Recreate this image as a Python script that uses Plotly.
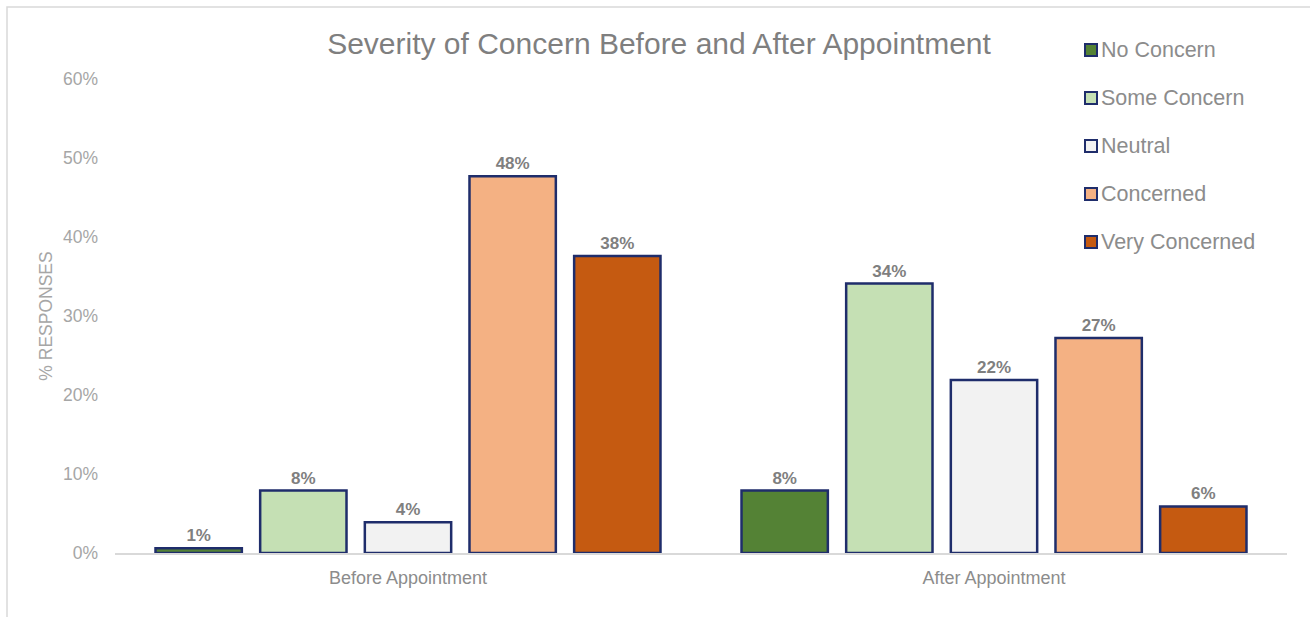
import plotly.graph_objects as go

# Survey results: share of responses per concern level
groups = ["Before Appointment", "After Appointment"]
levels = ["No Concern", "Some Concern", "Neutral", "Concerned", "Very Concerned"]
no_concern = [0.006, 0.079]
some_concern = [0.079, 0.341]
neutral = [0.039, 0.219]
concerned = [0.477, 0.272]
very_concerned = [0.376, 0.059]

series = [no_concern, some_concern, neutral, concerned, very_concerned]
colors = ["#548235", "#C5E0B4", "#F2F2F2", "#F4B183", "#C55A11"]
outline = "#1F2D6B"
font_family = "Liberation Sans, Arial, sans-serif"

fig = go.Figure()
for name, vals, col in zip(levels, series, colors):
    fig.add_trace(go.Bar(
        x=groups,
        y=vals,
        name=name,
        showlegend=False,
        marker=dict(color=col, line=dict(color=outline, width=2.5)),
        texttemplate="%{y:.0%}",
        textposition="outside",
        cliponaxis=False,
        textfont=dict(family=font_family, size=17, color="#7F7F7F", weight="bold"),
    ))

W, H = 1310, 617
ml, mr, mt, mb = 115, 23, 79, 64
pw, ph = W - ml - mr, H - mt - mb


def px_x(x):
    return (x - ml) / pw


def px_y(y):
    return 1 - (y - mt) / ph


# Legend: swatch + label per concern level, stacked on the right
shapes = []
annotations = []
for i, (name, col) in enumerate(zip(levels, colors)):
    yc = 50 + 48 * i
    shapes.append(dict(
        type="rect", xref="paper", yref="paper",
        x0=px_x(1085), x1=px_x(1097), y0=px_y(yc + 6), y1=px_y(yc - 6),
        fillcolor=col, line=dict(color=outline, width=2),
    ))
    annotations.append(dict(
        text=name, xref="paper", yref="paper",
        x=px_x(1099), y=px_y(yc), xanchor="left", yanchor="middle",
        showarrow=False,
        font=dict(size=21.5, color="#8C8C8C", family=font_family),
    ))

# Chart frame
shapes.append(dict(
    type="rect", xref="paper", yref="paper",
    x0=px_x(7), x1=px_x(W + 20),
    y0=px_y(H + 20), y1=px_y(7),
    line=dict(color="#D9D9D9", width=1.5),
    fillcolor="rgba(0,0,0,0)", layer="below",
))

fig.update_layout(
    width=W,
    height=H,
    margin=dict(l=ml, r=mr, t=mt, b=mb),
    paper_bgcolor="white",
    plot_bgcolor="white",
    barmode="group",
    bargap=0.107,
    bargroupgap=0.175,
    showlegend=False,
    font=dict(family=font_family, color="#8C8C8C"),
    title=dict(
        text="Severity of Concern Before and After Appointment",
        x=659 / W, xanchor="center",
        y=1 - 43 / H, yanchor="middle",
        font=dict(size=30, color="#7F7F7F", family=font_family),
    ),
    xaxis=dict(
        showline=True, linecolor="#D9D9D9", linewidth=1.5,
        ticks="", tickfont=dict(size=18, color="#8C8C8C"),
        ticklabelstandoff=8,
        showgrid=False,
    ),
    yaxis=dict(
        range=[0, 0.6], dtick=0.1, tickformat=".0%",
        showgrid=False, zeroline=False, showline=False,
        tickfont=dict(size=17.5, color="#A6A6A6"),
        ticklabelstandoff=16,
        title=dict(text="% RESPONSES", font=dict(size=17.5, color="#A6A6A6"), standoff=5),
    ),
    shapes=shapes,
    annotations=annotations,
)

fig.write_html("out.html")
